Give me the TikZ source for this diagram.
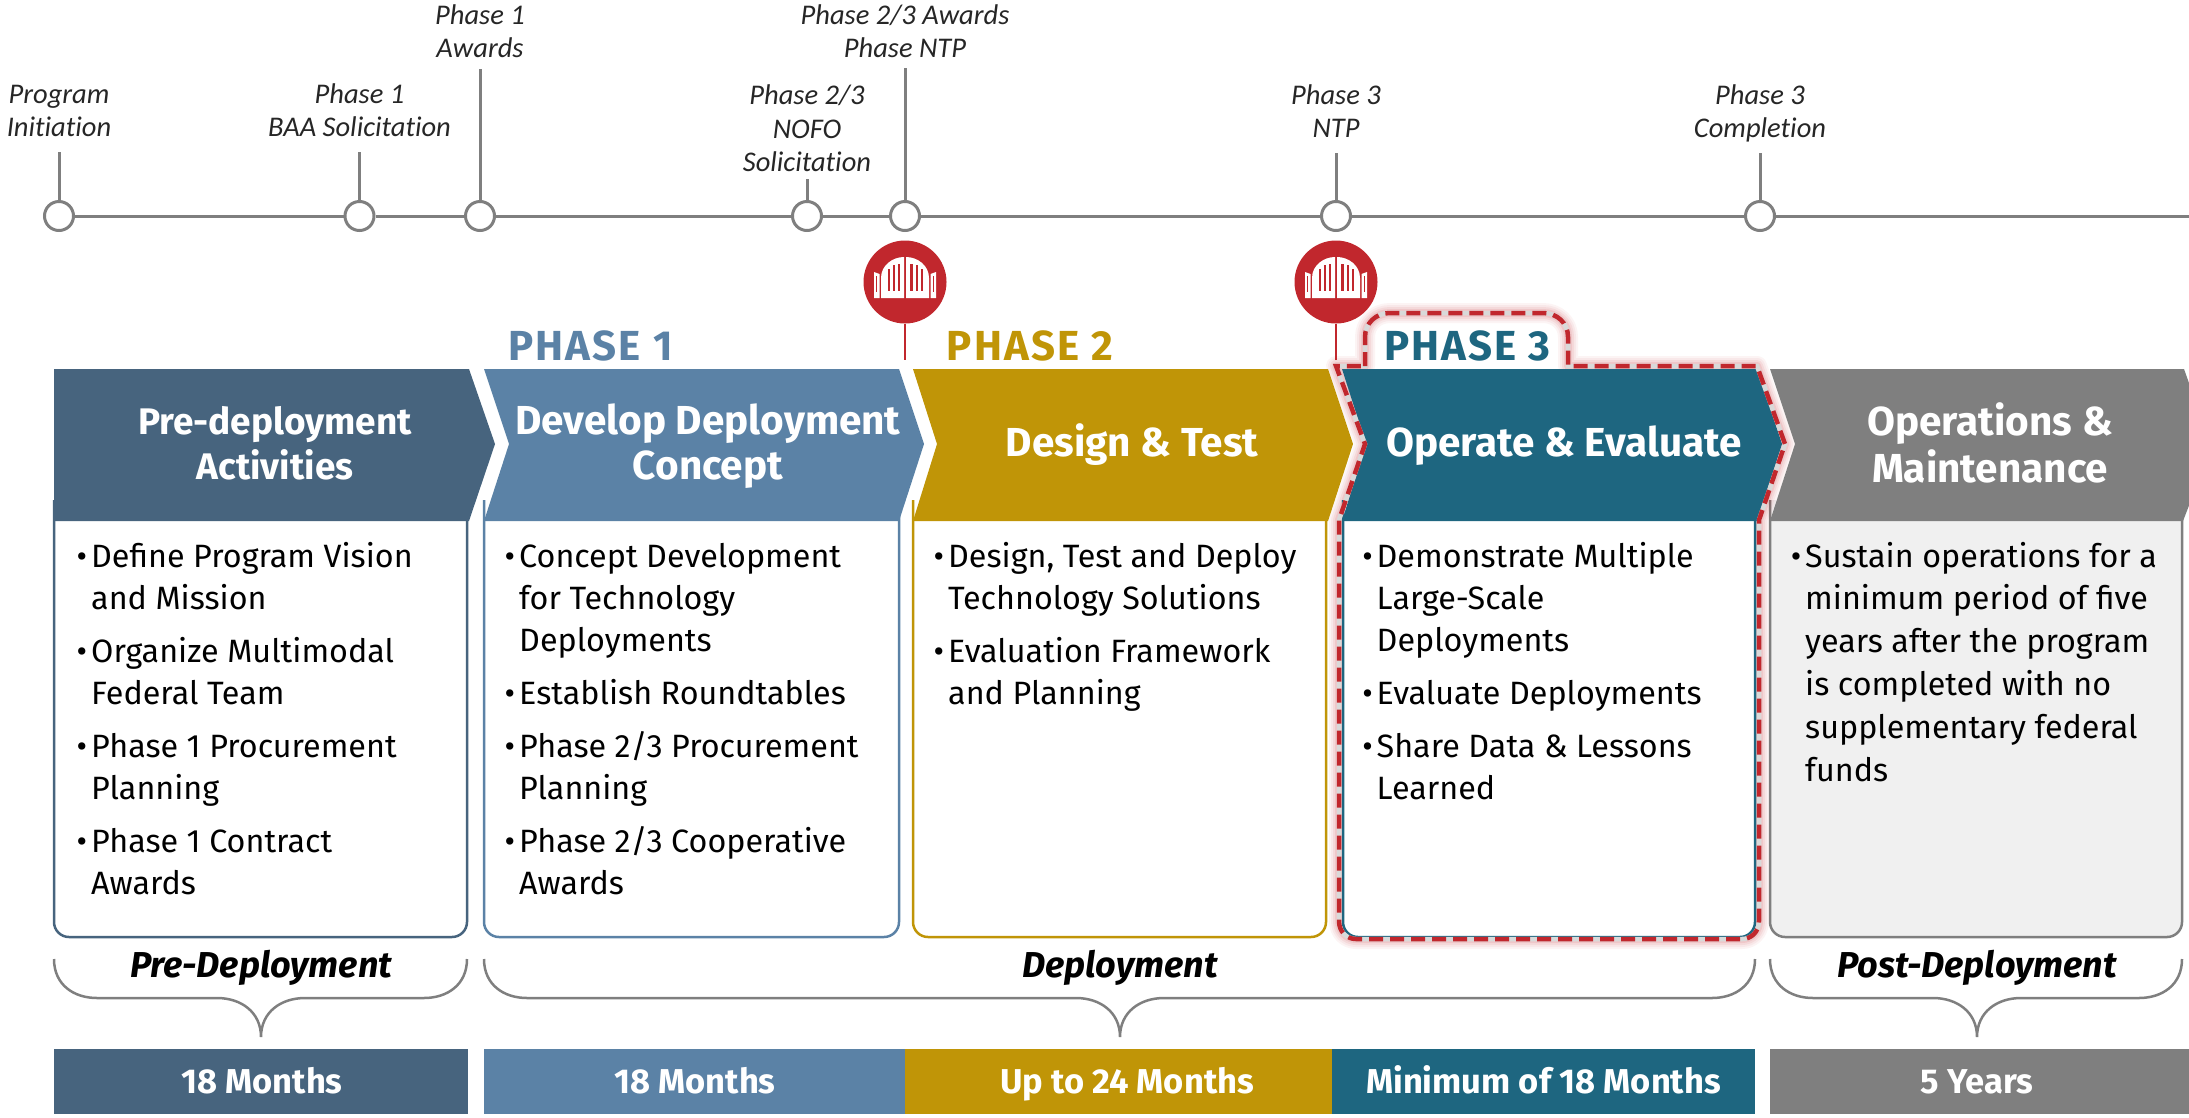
\documentclass[tikz,border=0pt]{standalone}
\usepackage{fontspec}
\setmainfont{Fira Sans}
\newfontfamily\tlfont[Ligatures=NoCommon]{Carlito}
\definecolor{cPre}{HTML}{47647E}
\definecolor{cBlue}{HTML}{5B82A6}
\definecolor{cGold}{HTML}{C09507}
\definecolor{cTeal}{HTML}{1E6680}
\definecolor{cGray}{HTML}{7F7F7F}
\definecolor{cRed}{HTML}{C1272D}
\definecolor{cPale}{HTML}{F0F0F0}
\newcommand\bul{\llap{\textbullet\hspace{4pt}}}
\tikzset{
 x=1pt,y=-1pt,
 tlline/.style={draw=cGray,line width=3pt},
 tldot/.style={circle,draw=cGray,line width=3pt,fill=white,minimum size=29pt,inner sep=0pt},
 tllabel/.style={anchor=south,align=center,inner xsep=0pt,font=\tlfont\itshape\fontsize{28.5}{33.5}\selectfont,text=black!85},
 pinhead/.style={circle,fill=cRed,minimum size=83pt,inner sep=0pt},
 pinstem/.style={draw=cRed,line width=2.5pt},
 hdr/.style={align=center,text=white,inner sep=0pt},
 hdrbig/.style={hdr,font=\bfseries\fontsize{40.5}{45}\selectfont},
 bodytxt/.style={anchor=north west,align=left,inner sep=0pt,text=black,font=\fontsize{32.3}{42}\selectfont},
 phaselab/.style={anchor=base,font=\bfseries\fontsize{42}{44}\selectfont\addfontfeature{LetterSpace=5},inner sep=0pt},
 barlab/.style={anchor=base,text=white,font=\bfseries\fontsize{34.5}{36}\selectfont,inner sep=0pt},
 stagelab/.style={anchor=base,font=\bfseries\itshape\fontsize{36}{38}\selectfont,inner sep=0pt,text=black},
 bracel/.style={draw=cGray,line width=2.5pt},
 boxl/.style={line width=2.5pt},
}
\newcommand\tbrace[3]{% left, centre, right
 \draw[bracel] (#1,959) .. controls (#1,985) and (#1+20,998) .. (#1+43,998) -- (#2-44,998)
   .. controls (#2-20,998) and (#2,1012) .. (#2,1037)
   .. controls (#2,1012) and (#2+20,998) .. (#2+44,998) -- (#3-43,998)
   .. controls (#3-20,998) and (#3,985) .. (#3,959);}
\begin{document}
\begin{tikzpicture}
\useasboundingbox (0,0) rectangle (2189,1117);
% timeline
\node[tldot] (c1) at (59,216) {};
\node[tldot] (c2) at (359.5,216) {};
\node[tldot] (c3) at (480,216) {};
\node[tldot] (c4) at (807,216) {};
\node[tldot] (c5) at (905,216) {};
\node[tldot] (c6) at (1336,216) {};
\node[tldot] (c7) at (1760,216) {};
\coordinate (tlend) at (2189,216);
\draw[tlline] (c1)--(c2) (c2)--(c3) (c3)--(c4) (c4)--(c5) (c5)--(c6) (c6)--(c7) (c7)--(tlend);
\node[tllabel,inner ysep=15pt] (l1) at (59,152) {Program\\Initiation};
\node[tllabel,inner ysep=15pt] (l2) at (359.5,152) {Phase 1\\BAA Solicitation};
\node[tllabel,inner ysep=11pt] (l3) at (480,69) {Phase 1\\Awards};
\node[tllabel,inner ysep=7pt] (l4) at (807,179) {Phase 2/3\\NOFO\\Solicitation};
\node[tllabel,inner ysep=10pt] (l5) at (905,68) {Phase 2/3 Awards\\Phase NTP};
\node[tllabel,inner ysep=15pt] (l6) at (1336,153) {Phase 3\\NTP};
\node[tllabel,inner ysep=10.5pt] (l7) at (1760,153) {Phase 3\\Completion};
\foreach \i in {1,...,7}{\draw[tlline] (l\i.south)--(c\i);}
% body boxes
\draw[boxl,draw=cPre,fill=white,rounded corners=15pt] (54,500) -- (54,937) -- (467,937) -- (467,500);
\draw[boxl,draw=cBlue,fill=white,rounded corners=15pt] (484,500) -- (484,937) -- (899,937) -- (899,500);
\draw[boxl,draw=cGold,fill=white,rounded corners=15pt] (913,500) -- (913,937) -- (1326,937) -- (1326,500);
\draw[boxl,draw=cGray,fill=cPale,rounded corners=15pt] (1770,500) -- (1770,937) -- (2182,937) -- (2182,500);
% outline of the highlighted phase
\def\outl{(1365,366) -- (1365,337) .. controls (1365,323) and (1376,313) .. (1390,313) -- (1543,313) .. controls (1557,313) and (1568,323) .. (1568,337) -- (1568,366) -- (1757,366) -- (1785,444) -- (1759,520) -- (1759,921) .. controls (1759,932) and (1751,939) .. (1742,939) -- (1356,939) .. controls (1347,939) and (1339,932) .. (1339,921) -- (1339,520) -- (1365,444) -- (1336,366) -- cycle}
\foreach \w/\o in {20/.05,16/.06,12/.08,8/.1}{\draw[cRed,opacity=\o,line width=\w pt,line join=round] \outl;}
\draw[boxl,draw=cTeal,fill=white,rounded corners=15pt] (1343,500) -- (1343,937) -- (1755,937) -- (1755,500);
% chevrons
\fill[cPre] (54,369) -- (469,369) -- (495,444) -- (469,521) -- (54,521) -- cycle;
\fill[cBlue] (484,369) -- (899,369) -- (924,444) -- (899,521) -- (484,521) -- (509,444) -- cycle;
\fill[cGold] (913,369) -- (1328,369) -- (1353,444) -- (1328,521) -- (913,521) -- (937,444) -- cycle;
\fill[cTeal] (1342,369) -- (1757,369) -- (1782,444) -- (1757,521) -- (1342,521) -- (1366,444) -- cycle;
\fill[cGray] (1770,369) -- (2184,369) -- (2195,400) -- (2195,490) -- (2183,521) -- (1770,521) -- (1795,444) -- cycle;
% dashed outline
\draw[white!85!black,line width=4.5pt] \outl;
\draw[cRed,line width=4.5pt,dash pattern=on 14pt off 7pt] \outl;
% gates
\foreach \n/\x in {p1/905,p2/1336}{
 \coordinate (\n foot) at (\x,360);
 \node[pinhead] (\n) at (\x,282) {};
 \draw[pinstem] (\n.south) -- (\n foot);
 \begin{scope}[shift={(\n.center)}]
  \foreach \s in {-1,1}{
   \begin{scope}[xscale=\s]
    \fill[white] (1,16) -- (1,-25) .. controls (12,-25) and (24,-17) .. (24,-4) -- (24,16) -- cycle;
    \fill[white] (25.5,16) -- (25.5,-8) -- (31,-10) -- (31,16) -- cycle;
    \fill[cRed] (27.6,10) rectangle (28.9,-6);
    \fill[cRed] (5,9) rectangle (7.5,-18);
    \fill[cRed] (10.5,9) rectangle (12.5,-17);
    \fill[cRed] (15.5,9) rectangle (17.5,-13);
   \end{scope}}
 \end{scope}}
% phase labels
\node[phaselab,text=cBlue] (ph1) at (590.5,360.5) {PHASE 1};
\node[phaselab,text=cGold] (ph2) at (1030,360.5) {PHASE 2};
\node[phaselab,text=cTeal] (ph3) at (1467.5,360.5) {PHASE 3};
% headers
\node[hdr,anchor=north,font=\bfseries\fontsize{37}{45}\selectfont] (h1) at (275,402.5) {\strut Pre-deployment\\Activities};
\node[hdrbig,anchor=north] (h2) at (708,402.5) {\strut Develop Deployment\\Concept};
\node[hdrbig,anchor=base] (h3) at (1132,456) {Design \& Test};
\node[hdrbig,anchor=base] (h4) at (1564,456) {Operate \& Evaluate};
\node[hdrbig,anchor=north] (h5) at (1990,402.5) {\strut Operations \&\\Maintenance};
% bodies
\node[bodytxt] (b1) at (91,537.6) {\bul\strut Define Program Vision\\and Mission\\[11pt]\bul Organize Multimodal\\Federal Team\\[11pt]\bul Phase 1 Procurement\\Planning\\[11pt]\bul Phase 1 Contract\\Awards};
\node[bodytxt] (b2) at (519,537.6) {\bul\strut Concept Development\\for Technology\\Deployments\\[11pt]\bul Establish Roundtables\\[11pt]\bul Phase 2/3 Procurement\\Planning\\[11pt]\bul Phase 2/3 Cooperative\\Awards};
\node[bodytxt] (b3) at (948,537.6) {\bul\strut Design, Test and Deploy\\Technology Solutions\\[11pt]\bul Evaluation Framework\\and Planning};
\node[bodytxt] (b4) at (1376.5,537.6) {\bul\strut Demonstrate Multiple\\Large-Scale\\Deployments\\[11pt]\bul Evaluate Deployments\\[11pt]\bul Share Data \& Lessons\\Learned};
\node[bodytxt,font=\fontsize{32.3}{42.8}\selectfont] (b5) at (1805,537) {\bul\strut Sustain operations for a\\minimum period of five\\years after the program\\is completed with no\\supplementary federal\\funds};
% braces
\tbrace{54}{261}{467}
\tbrace{484}{1120}{1755}
\tbrace{1770}{1977}{2182}
\node[stagelab] (s1) at (261,977) {Pre-Deployment};
\node[stagelab] (s2) at (1120,977) {Deployment};
\node[stagelab] (s3) at (1977,977) {Post-Deployment};
% bars
\fill[cPre] (54,1049) rectangle (468,1114);
\fill[cBlue] (484,1049) rectangle (905,1114);
\fill[cGold] (905,1049) rectangle (1332,1114);
\fill[cTeal] (1332,1049) rectangle (1755,1114);
\fill[cGray] (1770,1049) rectangle (2189,1114);
\node[barlab] (t1) at (262,1093) {18 Months};
\node[barlab] (t2) at (695,1093) {18 Months};
\node[barlab] (t3) at (1127,1093) {Up to 24 Months};
\node[barlab] (t4) at (1543.5,1093) {Minimum of 18 Months};
\node[barlab] (t5) at (1977,1093) {5 Years};
\end{tikzpicture}
\end{document}
